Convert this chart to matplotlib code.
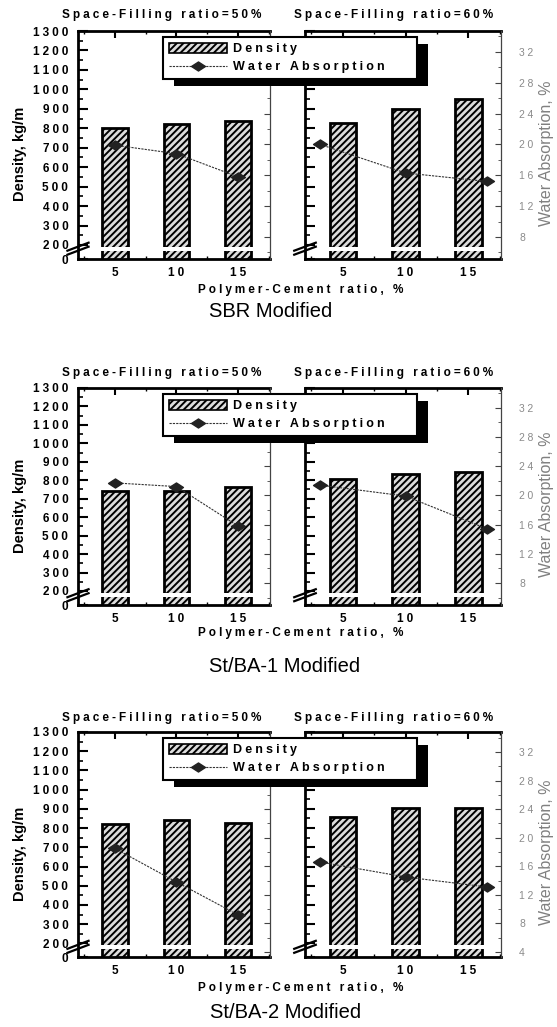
import matplotlib
matplotlib.use('Agg')
import matplotlib.pyplot as plt
import matplotlib.ticker as mt
from matplotlib.patches import Rectangle, Patch
from matplotlib.lines import Line2D
from matplotlib.path import Path
from matplotlib.transforms import IdentityTransform

W, H = 557, 1027
plt.rcParams['font.family'] = ['Liberation Sans', 'DejaVu Sans']
plt.rcParams['hatch.linewidth'] = 1.4

# ---------------- data ----------------
ratios = [5, 10, 15]
water_x_50 = [5, 10, 15]
water_x_60 = [3.2, 10, 16.5]
panel_names = ['SBR Modified', 'St/BA-1 Modified', 'St/BA-2 Modified']
fill_titles = ['Space-Filling ratio=50%', 'Space-Filling ratio=60%']
legend_labels = ['Density', 'Water Absorption']

density_sbr_50 = [800, 824, 835]
density_sbr_60 = [826, 899, 953]
density_ba1_50 = [744, 740, 766]
density_ba1_60 = [807, 834, 843]
density_ba2_50 = [820, 844, 827]
density_ba2_60 = [858, 907, 907]

water_sbr_50 = [19.9, 18.8, 15.8]
water_sbr_60 = [20.0, 16.3, 15.2]
water_ba1_50 = [21.7, 21.2, 15.8]
water_ba1_60 = [21.4, 19.9, 15.4]
water_ba2_50 = [18.5, 13.8, 9.2]
water_ba2_60 = [16.6, 14.5, 13.1]

density_ticks = list(range(200, 1301, 100))
water_ticks_a = list(range(8, 33, 4))
water_ticks_b = list(range(4, 33, 4))

panels = [
    dict(name=panel_names[0], d50=density_sbr_50, d60=density_sbr_60,
         w50=water_sbr_50, w60=water_sbr_60,
         top=31, bot=259, ybot=128, wlim=(5.15, 34.7), wt=water_ticks_a,
         title_y=15, xl_y=290, name_y=311, name_x=271),
    dict(name=panel_names[1], d50=density_ba1_50, d60=density_ba1_60,
         w50=water_ba1_50, w60=water_ba1_60,
         top=388, bot=605, ybot=124, wlim=(4.98, 34.7), wt=water_ticks_a,
         title_y=373, xl_y=633, name_y=666, name_x=285),
    dict(name=panel_names[2], d50=density_ba2_50, d60=density_ba2_60,
         w50=water_ba2_50, w60=water_ba2_60,
         top=732, bot=957, ybot=129, wlim=(3.3, 34.8), wt=water_ticks_b,
         title_y=718, xl_y=988, name_y=1013, name_x=286),
]

SP = '\u2005'
def sp(s):
    return SP.join(s)

FS = 8.5

diamond = Path([(-1.0, 0.0), (0.0, 0.65), (1.0, 0.0), (0.0, -0.65), (-1.0, 0.0)],
               [Path.MOVETO, Path.LINETO, Path.LINETO, Path.LINETO, Path.CLOSEPOLY])

BAR_FC = '#dcdcdc'
HATCH = '/////'
LINE_KW = dict(color='#333333', ls=(0, (2, 1)), lw=0.8, marker=diamond, ms=10,
               mfc='#222222', mec='#222222')

fig = plt.figure(figsize=(W / 100, H / 100), dpi=100)

def ax_px(x0, x1, top, bot):
    return fig.add_axes([x0 / W, 1 - bot / H, (x1 - x0) / W, (bot - top) / H])

legends = []
for p in panels:
    for side, (x0, x1) in enumerate([(78, 270), (305, 501)]):
        dens = p['d50'] if side == 0 else p['d60']
        wat = p['w50'] if side == 0 else p['w60']
        wx = water_x_50 if side == 0 else water_x_60
        ax = ax_px(x0, x1, p['top'], p['bot'])
        ax.bar(ratios, dens, width=2.1, facecolor=BAR_FC, edgecolor='black',
               hatch=HATCH, linewidth=2.0, zorder=2)
        ax.axhspan(p['ybot'] + 43, p['ybot'] + 63, xmin=0.01, xmax=0.99,
                   color='white', zorder=2.2, lw=0)
        ax.set_xlim(2, 17.6)
        ax.set_ylim(p['ybot'], 1300)
        ax.set_xticks(ratios)
        ax.set_xticklabels([sp(str(r)) for r in ratios], fontweight='bold', fontsize=FS)
        ax.xaxis.set_minor_locator(mt.FixedLocator([2.5, 7.5, 12.5, 17.5]))
        ax.set_yticks([p['ybot']] + density_ticks)
        ax.set_yticklabels(['0'] + [sp(str(v)) for v in density_ticks],
                           fontweight='bold', fontsize=FS)
        ax.yaxis.set_minor_locator(mt.FixedLocator(list(range(250, 1300, 100))))
        ax.tick_params(axis='y', which='major', direction='in', length=7, width=1.5,
                       left=True, right=False, pad=7, labelleft=(side == 0))
        ax.tick_params(axis='y', which='minor', direction='in', length=3.5, width=1.2,
                       left=True, right=False)
        ax.tick_params(axis='x', which='major', direction='in', length=5, width=1.5,
                       top=True, bottom=True, pad=6)
        ax.tick_params(axis='x', which='minor', direction='in', length=2.5, width=1,
                       top=True, bottom=True)
        for s in ['left', 'bottom', 'top']:
            ax.spines[s].set_linewidth(2)
        ax.spines['right'].set_visible(False)

        # axis break mark
        fb = 53.0 / (1300 - p['ybot'])
        hh = p['bot'] - p['top']
        for dy in (-2.0, 2.0):
            ax.plot([-0.055, 0.055], [fb - 4.0 / hh + dy / hh, fb + 4.0 / hh + dy / hh],
                    transform=ax.transAxes, clip_on=False, color='black', lw=1.6,
                    zorder=5)

        ax2 = ax.twinx()
        ax2.plot(wx, wat, zorder=4, **LINE_KW)
        ax2.set_ylim(*p['wlim'])
        ax2.set_yticks(p['wt'])
        ax2.set_yticklabels([sp(str(v)) for v in p['wt']])
        ax2.yaxis.set_minor_locator(mt.MultipleLocator(2))
        ax2.tick_params(axis='y', which='major', direction='in', length=4, width=0.8,
                        color='#444444', pad=13, labelcolor='#8a8a8a', labelsize=7.5,
                        labelright=(side == 1))
        ax2.tick_params(axis='y', which='minor', direction='in', length=2, width=0.6,
                        color='#444444')
        for s in ['left', 'bottom', 'top']:
            ax2.spines[s].set_visible(False)
        ax2.spines['right'].set_linewidth(0.9)
        ax2.spines['right'].set_color('#444444')

    # texts
    fig.text(162 / W, 1 - p['title_y'] / H, sp(fill_titles[0]), ha='center', va='center',
             fontweight='bold', fontsize=FS)
    fig.text(394 / W, 1 - p['title_y'] / H, sp(fill_titles[1]), ha='center', va='center',
             fontweight='bold', fontsize=FS)
    fig.text(301 / W, 1 - p['xl_y'] / H, sp('Polymer-Cement ratio, %'), ha='center',
             va='center', fontweight='bold', fontsize=FS)
    fig.text(p['name_x'] / W, 1 - p['name_y'] / H, p['name'],
             ha='center', va='center', fontsize=14.5)
    ymid = (p['top'] + p['bot']) / 2
    fig.text(20 / W, 1 - (ymid + 9) / H, 'Density, kg/m', rotation=90, ha='center',
             va='center', fontweight='bold', fontsize=10.5)
    fig.text(546 / W, 1 - (ymid + 8) / H, 'Water Absorption, %', rotation=90,
             ha='center', va='center', fontsize=11.5, color='#808080')

    handles = [Patch(facecolor=BAR_FC, edgecolor='black', hatch=HATCH, lw=1.2),
               Line2D([], [], **LINE_KW)]
    leg = fig.legend(handles, [sp(l) for l in legend_labels], loc='upper left',
                     bbox_to_anchor=(163 / W, 1 - (p['top'] + 6) / H, 254 / W, 0),
                     mode='expand', borderaxespad=0, fancybox=False, framealpha=1,
                     edgecolor='black', handlelength=4.6, handleheight=0.8,
                     handletextpad=0.5, borderpad=0.5, labelspacing=0.45,
                     prop=dict(weight='bold', size=9))
    leg.get_frame().set_linewidth(1.5)
    legends.append(leg)

fig.canvas.draw()
for leg in legends:
    bb = leg.get_window_extent()
    r = Rectangle((bb.x0 + 11, bb.y0 - 7), bb.width, bb.height, transform=IdentityTransform(),
                  facecolor='black', edgecolor='none', zorder=4.9)
    fig.patches.append(r)

fig.savefig('out.png', dpi=100)
